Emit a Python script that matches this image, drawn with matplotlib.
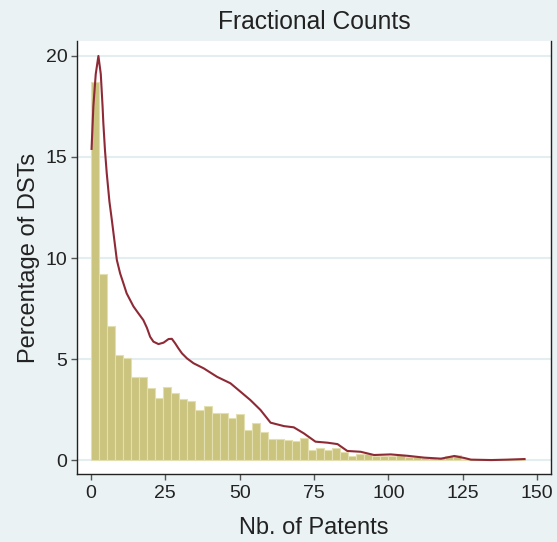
import numpy as np
import matplotlib
matplotlib.use("Agg")
import matplotlib.pyplot as plt

plt.rcParams['font.family'] = ['Liberation Sans', 'DejaVu Sans']

# Histogram (percent) – 54 bins from 0 to 146
bin_lo, bin_hi, n_bins = 0.0, 146.0, 54
pct = [18.7, 9.2, 6.63, 5.2, 5.07, 4.12, 4.12, 3.55, 3.05, 3.63,
       3.3, 3.0, 2.9, 2.5, 2.7, 2.31, 2.34, 2.1, 2.26, 1.48,
       1.84, 1.38, 1.06, 1.06, 0.98, 0.93, 1.07, 0.52, 0.6, 0.5,
       0.58, 0.42, 0.22, 0.32, 0.32, 0.18, 0.18, 0.21, 0.25, 0.15,
       0.14, 0.12, 0.1, 0.08, 0.22, 0.24, 0.06, 0.04, 0.04, 0.05,
       0.05, 0.06, 0.06, 0.07]

# Kernel density curve (scaled to percent)
kx = [0.2, 0.8, 1.6, 2.5, 3.3, 3.9, 4.15, 4.7, 5.3, 6.2, 7.0, 8.7, 9.8,
      10.9, 12.0, 14.3, 16.0, 17.6, 18.8, 19.9, 21.0, 22.7, 24.4, 26.1,
      27.2, 28.3, 29.4, 30.6, 32.3, 34.5, 37.9, 42.4, 46.9, 50.3,
      53.6, 57.0, 60.4, 64.9, 68.2, 71.6, 75.5, 79.5, 82.9, 86.2, 90.7,
      95.2, 100.8, 106.5, 112.1, 117.7, 122.2, 125.6, 127.8, 134.6, 140.0,
      145.8]
ky = [15.4, 17.5, 19.1, 20.0, 19.1, 17.5, 16.7, 15.35, 14.2, 12.8, 11.9,
      9.9, 9.24, 8.75, 8.25, 7.6, 7.25, 6.93, 6.55, 6.1, 5.86, 5.74, 5.81,
      5.99, 6.0, 5.78, 5.53, 5.28, 5.03, 4.79, 4.54, 4.12, 3.8, 3.38,
      2.97, 2.48, 1.85, 1.68, 1.62, 1.32, 0.91, 0.86, 0.79, 0.45, 0.41,
      0.25, 0.28, 0.21, 0.12, 0.07, 0.2, 0.1, 0.02, 0.0, 0.02, 0.05]

xticks = [0, 25, 50, 75, 100, 125, 150]
yticks = [0, 5, 10, 15, 20]

bg = '#EAF2F3'
W, H = 557, 542
fig = plt.figure(figsize=(W / 100, H / 100), dpi=100, facecolor=bg)
ax = fig.add_axes([77 / W, 1 - 474 / H, (551 - 77) / W, (474 - 41) / H])
ax.set_facecolor('white')

edges = np.linspace(bin_lo, bin_hi, n_bins + 1)
ax.bar(edges[:-1], pct, width=np.diff(edges), align='edge',
       color='#CBC47F', edgecolor='#E3DFB0', linewidth=0.8, zorder=2)
ax.plot(kx, ky, color='#8E2A36', linewidth=1.5, zorder=3)

ax.set_xlim(-4.7, 154.7)
ax.set_ylim(-0.69, 20.74)
ax.set_xticks(xticks)
ax.set_yticks(yticks)
ax.set_yticklabels([str(v) for v in yticks], rotation=0)
ax.grid(axis='y', color='#E4EEF0', linewidth=1.5, zorder=0)
ax.set_axisbelow(True)

for s in ['left', 'bottom', 'right']:
    ax.spines[s].set_color('#222222')
    ax.spines[s].set_linewidth(1.0)
ax.spines['top'].set_visible(False)
ax.tick_params(axis='both', direction='out', length=4, width=1,
               color='#555555', labelsize=14, labelcolor='#222222', pad=4)
ax.tick_params(axis='y', pad=3)

ax.set_title('Fractional Counts', fontsize=17.7, color='#222222', pad=9)
ax.set_xlabel('Nb. of Patents', fontsize=17, color='#222222', labelpad=11)
ax.set_ylabel('Percentage of DSTs', fontsize=17, color='#222222', labelpad=4)

fig.savefig('out.png', dpi=100, facecolor=bg)
